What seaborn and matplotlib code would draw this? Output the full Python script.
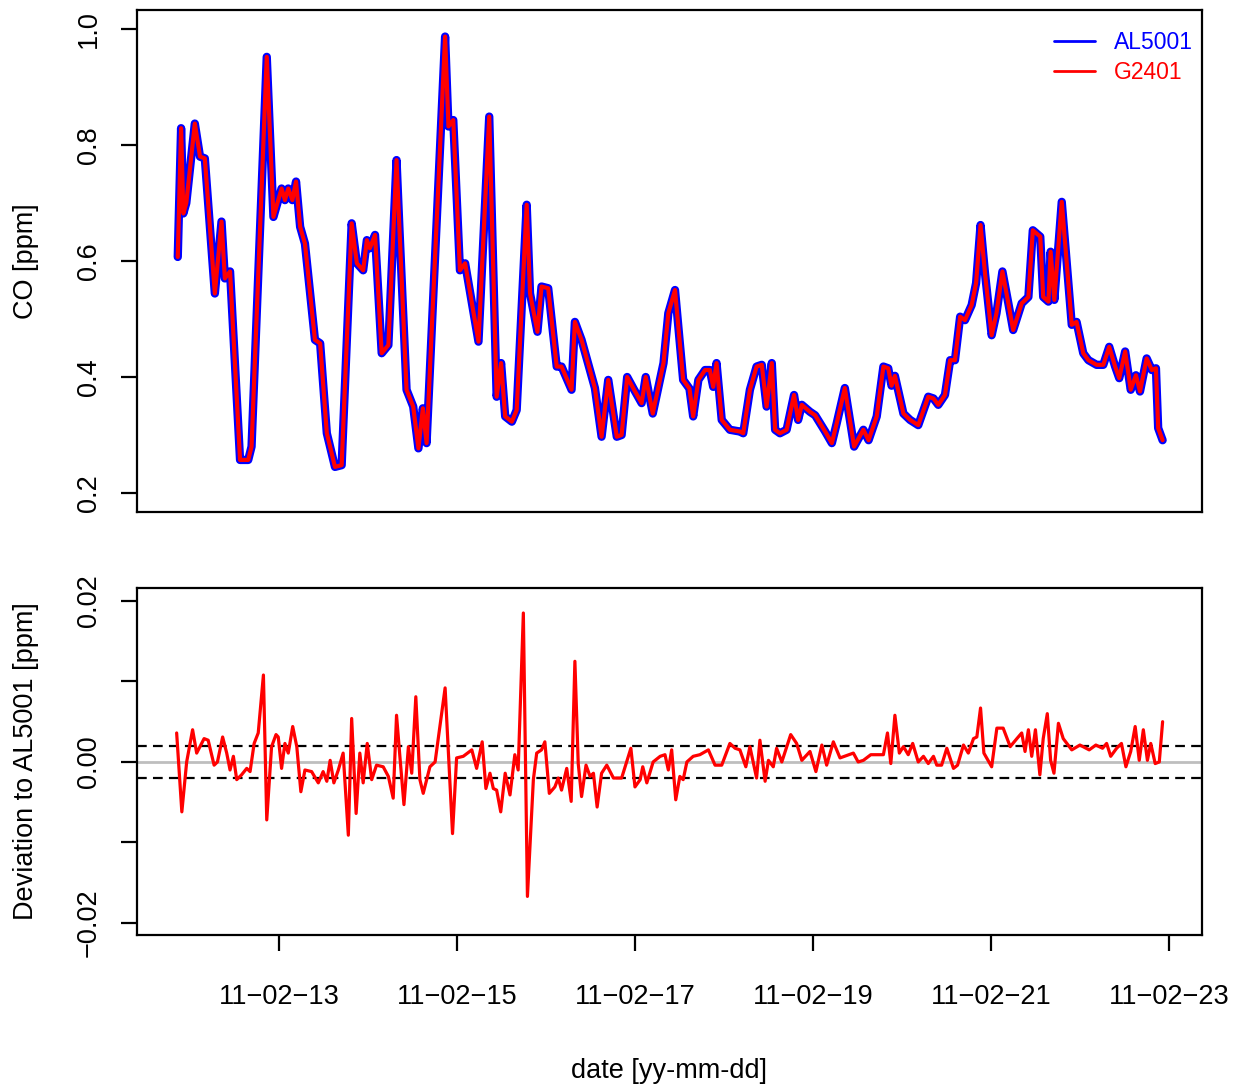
import matplotlib
matplotlib.use("Agg")
import matplotlib.pyplot as plt
from matplotlib.lines import Line2D
import numpy as np
import pandas as pd
import seaborn as sns

# CO time series, hours relative to 2011-02-13 00:00
co_hours = [-27.3, -26.4, -25.8, -25.0, -22.7, -21.3, -20.0, -17.3, -15.5, -14.6,
            -13.2, -10.5, -8.3, -7.4, -3.3, -1.5, 0.7, 1.6, 2.5, 3.6,
            4.6, 5.7, 7.0, 9.7, 11.1, 12.9, 15.1, 16.9, 19.6, 21.0,
            22.7, 23.7, 24.5, 25.9, 27.7, 29.5, 31.7, 32.5, 34.4, 36.2,
            37.6, 38.8, 39.8, 44.8, 45.7, 47.0, 48.8, 50.2, 53.8, 56.7,
            58.7, 59.9, 61.0, 62.8, 64.1, 66.8, 67.7, 69.7, 70.8, 72.6,
            74.9, 76.2, 78.9, 79.8, 81.6, 85.2, 87.0, 88.8, 91.1, 92.4,
            93.9, 95.6, 97.8, 98.9, 100.8, 103.7, 105.0, 106.8, 109.0, 110.7,
            111.7, 113.1, 114.9, 116.2, 117.1, 118.0, 119.4, 121.6, 124.3, 125.2,
            127.0, 128.8, 130.2, 131.5, 132.9, 133.8, 135.1, 136.9, 138.9, 140.0,
            141.0, 143.2, 144.6, 147.3, 149.1, 150.4, 152.6, 155.1, 157.6, 159.0,
            161.2, 163.0, 164.3, 165.2, 166.1, 168.4, 170.2, 172.4, 175.1, 176.5,
            177.8, 179.6, 181.0, 182.3, 183.7, 185.0, 186.8, 188.0, 189.2, 190.4,
            192.2, 193.5, 195.1, 196.7, 198.0, 200.3, 202.1, 203.3, 205.3, 206.1,
            207.5, 208.1, 209.1, 211.1, 213.8, 215.1, 216.9, 218.3, 220.5, 222.3,
            223.9, 225.5, 226.6, 228.2, 229.7, 231.1, 232.2, 234.0, 235.4, 236.5,
            237.1, 238.3]
co_al5001 = [0.607, 0.829, 0.682, 0.700, 0.837, 0.780, 0.777, 0.544, 0.668, 0.570,
             0.582, 0.257, 0.257, 0.280, 0.952, 0.676, 0.725, 0.705, 0.725, 0.705,
             0.737, 0.659, 0.630, 0.464, 0.458, 0.303, 0.245, 0.248, 0.665, 0.596,
             0.584, 0.636, 0.622, 0.645, 0.441, 0.455, 0.774, 0.653, 0.378, 0.349,
             0.277, 0.346, 0.286, 0.987, 0.832, 0.843, 0.584, 0.596, 0.461, 0.849,
             0.366, 0.424, 0.332, 0.323, 0.343, 0.697, 0.544, 0.478, 0.556, 0.553,
             0.418, 0.418, 0.378, 0.495, 0.464, 0.381, 0.297, 0.395, 0.297, 0.300,
             0.400, 0.380, 0.355, 0.400, 0.337, 0.424, 0.510, 0.550, 0.395, 0.380,
             0.332, 0.395, 0.412, 0.412, 0.383, 0.424, 0.326, 0.309, 0.306, 0.303,
             0.378, 0.418, 0.421, 0.349, 0.424, 0.309, 0.303, 0.309, 0.369, 0.326,
             0.352, 0.340, 0.334, 0.306, 0.286, 0.320, 0.381, 0.280, 0.309, 0.291,
             0.332, 0.418, 0.415, 0.385, 0.402, 0.337, 0.326, 0.317, 0.366, 0.363,
             0.352, 0.369, 0.429, 0.429, 0.504, 0.498, 0.524, 0.562, 0.662, 0.579,
             0.472, 0.510, 0.582, 0.527, 0.481, 0.527, 0.538, 0.653, 0.642, 0.538,
             0.530, 0.616, 0.533, 0.702, 0.490, 0.495, 0.441, 0.429, 0.421, 0.421,
             0.452, 0.418, 0.398, 0.444, 0.378, 0.403, 0.375, 0.432, 0.412, 0.415,
             0.312, 0.291]
co_g2401 = list(co_al5001)  # indistinguishable at this scale

# G2401 - AL5001 deviation, in 1e-3 ppm
dev_hours = [-27.6, -26.2, -24.9, -23.3, -22.2, -21.3, -20.2, -19.1, -17.5, -16.6,
             -15.2, -14.1, -13.2, -12.3, -11.4, -10.1, -8.7, -7.8, -6.7, -5.6,
             -4.2, -3.3, -2.0, -0.8, -0.2, 0.7, 1.6, 2.5, 3.7, 4.8,
             5.9, 7.0, 8.8, 10.6, 11.9, 12.9, 13.8, 14.8, 16.0, 17.3,
             18.7, 19.6, 20.8, 21.8, 22.7, 23.8, 25.0, 26.3, 28.1, 29.5,
             30.8, 31.7, 32.6, 33.7, 34.9, 35.8, 36.9, 38.0, 38.9, 40.7,
             42.1, 44.8, 46.8, 47.9, 49.7, 52.0, 53.3, 54.8, 55.8, 56.9,
             57.8, 58.7, 59.8, 61.0, 62.3, 63.6, 64.5, 65.9, 67.0, 68.6,
             69.5, 70.8, 71.7, 72.9, 74.4, 75.3, 76.2, 77.6, 78.8, 79.8,
             80.7, 81.6, 82.8, 83.9, 84.8, 85.8, 87.0, 88.4, 90.2, 92.4,
             94.9, 96.0, 97.4, 98.1, 99.2, 100.9, 102.8, 104.1, 105.0, 105.9,
             107.0, 108.1, 109.0, 110.0, 111.7, 113.5, 115.8, 117.6, 119.4, 121.6,
             123.0, 124.3, 125.9, 127.0, 128.8, 129.7, 131.1, 132.0, 133.3, 134.2,
             135.6, 138.0, 139.6, 141.0, 143.2, 144.8, 146.4, 147.7, 149.5, 151.3,
             154.9, 156.2, 157.6, 159.6, 161.2, 163.0, 164.1, 165.0, 166.1, 167.3,
             168.4, 169.7, 170.9, 172.4, 173.8, 175.1, 176.5, 177.4, 178.7, 180.1,
             181.9, 183.0, 184.6, 185.9, 187.3, 188.2, 189.2, 190.1, 192.2, 193.6,
             195.3, 197.2, 199.0, 200.3, 201.2, 202.1, 203.0, 204.0, 205.2, 206.1,
             207.2, 208.1, 209.0, 210.2, 211.5, 213.8, 216.0, 218.5, 220.3, 222.1,
             223.2, 224.3, 225.9, 227.2, 228.4, 229.7, 230.9, 232.0, 233.1, 234.2,
             235.1, 236.3, 237.4, 238.3]
dev_mppm = [3.6, -6.2, 0.0, 4.0, 1.1, 1.9, 2.9, 2.7, -0.4, 0.0,
            3.1, 1.1, -1.0, 0.7, -2.2, -1.6, -0.8, -1.2, 2.3, 3.6,
            10.8, -7.2, 1.9, 3.4, 3.1, -0.8, 2.3, 1.1, 4.4, 1.9,
            -3.7, -1.0, -1.2, -2.6, -1.2, -2.4, 0.2, -2.6, -1.0, 1.1,
            -9.1, 5.4, -6.4, 1.1, -2.6, 2.3, -2.2, -0.4, -0.6, -1.8,
            -4.5, 5.8, 0.7, -5.3, 1.9, -1.4, 8.1, -2.2, -3.9, -0.6,
            0.0, 9.2, -8.9, 0.5, 0.7, 1.5, -0.8, 2.5, -3.3, -1.4,
            -3.3, -3.5, -6.2, -1.4, -4.1, 0.9, -1.0, 18.5, -16.7, -2.2,
            1.1, 1.5, 2.5, -3.9, -3.1, -2.0, -3.5, -0.8, -4.9, 12.5,
            -0.2, -4.3, -0.4, -1.8, -1.4, -5.6, -1.4, -0.4, -2.0, -2.0,
            1.7, -3.1, -2.2, -0.6, -2.6, 0.0, 0.7, 0.9, -1.0, 1.5,
            -4.7, -1.8, -2.2, 0.0, 0.7, 0.9, 1.5, -0.4, -0.4, 2.3,
            1.7, 1.5, -0.6, 1.9, -2.0, 2.7, -2.4, 0.2, -0.6, 1.7,
            0.0, 3.4, 2.3, 0.2, 1.3, -1.2, 2.1, -0.4, 2.5, 0.5,
            1.1, 0.0, 0.2, 0.9, 0.9, 0.9, 3.6, -0.2, 5.8, 1.1,
            1.9, 0.9, 2.3, 0.0, 0.7, -0.2, 0.7, -0.4, -0.4, 1.7,
            -0.8, -0.4, 2.1, 1.1, 2.9, 3.1, 6.7, 1.1, -0.6, 4.2,
            4.2, 1.9, 2.9, 3.6, 1.3, 4.0, 0.7, 4.0, -1.6, 2.9,
            6.0, 0.2, -1.4, 4.8, 2.9, 1.5, 2.1, 1.5, 2.1, 1.7,
            2.3, 0.7, 1.7, 2.3, -0.6, 1.3, 4.4, 0.2, 4.0, 0.2,
            2.3, -0.2, 0.0, 5.0]

co_ticks = [0.2, 0.4, 0.6, 0.8, 1.0]
dev_ticks = [-0.02, -0.01, 0.0, 0.01, 0.02]
dev_tick_labels = ["\u22120.02", "", "0.00", "", "0.02"]
date_ticks = ["2011-02-13", "2011-02-15", "2011-02-17", "2011-02-19", "2011-02-21", "2011-02-23"]
dev_band = 0.002

t0 = pd.Timestamp("2011-02-13")
co = pd.DataFrame({
    "time": t0 + pd.to_timedelta(co_hours, unit="h"),
    "AL5001": co_al5001,
    "G2401": co_g2401,
})
dev = pd.DataFrame({
    "time": t0 + pd.to_timedelta(dev_hours, unit="h"),
    "dev": np.array(dev_mppm) * 1e-3,
})

sns.set_theme(style="ticks")
plt.rcParams["font.family"] = ["Liberation Sans", "DejaVu Sans"]
plt.rcParams["lines.scale_dashes"] = False
plt.rcParams["axes.linewidth"] = 1.6
plt.rcParams["text.color"] = "black"
plt.rcParams["axes.labelcolor"] = "black"

fig = plt.figure(figsize=(12.34, 10.88), dpi=100)
ax1 = fig.add_axes([0.1110, 0.5294, 0.8630, 0.4614])
ax2 = fig.add_axes([0.1110, 0.1406, 0.8630, 0.3189])

xlim = (t0 + pd.Timedelta(hours=-38.3), t0 + pd.Timedelta(hours=248.9))

# top: CO from both analysers
sns.lineplot(data=co, x="time", y="AL5001", ax=ax1, color="#0000ff", lw=6,
             estimator=None, sort=False, solid_joinstyle="round", solid_capstyle="round")
sns.lineplot(data=co, x="time", y="G2401", ax=ax1, color="#ff0000", lw=3,
             estimator=None, sort=False, solid_joinstyle="round", solid_capstyle="round")
ax1.set_xlim(xlim)
ax1.set_ylim(0.1672, 1.0328)
ax1.set_yticks(co_ticks)
ax1.set_yticklabels([f"{v:.1f}" for v in co_ticks])
ax1.set_xticks([])
ax1.set_xlabel("")
ax1.set_ylabel("CO [ppm]", fontsize=19.5)
ax1.yaxis.set_label_coords(-0.092, 0.5)

handles = [Line2D([], [], color="#0000ff", lw=2), Line2D([], [], color="#ff0000", lw=2)]
ax1.legend(handles, ["AL5001", "G2401"], loc="upper right", frameon=False,
           fontsize=16.5, labelcolor=["#0000ff", "#ff0000"], handlelength=1.8,
           handletextpad=0.85, labelspacing=0.32, borderaxespad=0.3,
           bbox_to_anchor=(1.007, 0.99))

# bottom: deviation
ax2.axhline(0, color="#bebebe", lw=2)
ax2.axhline(dev_band, color="black", lw=1.6, dashes=(7, 4.5))
ax2.axhline(-dev_band, color="black", lw=1.6, dashes=(7, 4.5))
sns.lineplot(data=dev, x="time", y="dev", ax=ax2, color="#ff0000", lw=2.3,
             estimator=None, sort=False, solid_joinstyle="round")
ax2.set_xlim(xlim)
ax2.set_ylim(-0.0215, 0.0216)
ax2.set_yticks(dev_ticks)
ax2.set_yticklabels(dev_tick_labels)
ax2.set_xticks(pd.to_datetime(date_ticks))
ax2.set_xticklabels([pd.Timestamp(d).strftime("%y-%m-%d").replace("-", "\u2212") for d in date_ticks])
ax2.set_ylabel("Deviation to AL5001 [ppm]", fontsize=19.5)
ax2.yaxis.set_label_coords(-0.092, 0.5)
ax2.set_xlabel("date [yy-mm-dd]", fontsize=19.5)
ax2.xaxis.set_label_coords(0.5, -0.355)

for ax in (ax1, ax2):
    for s in ax.spines.values():
        s.set_visible(True)
        s.set_color("black")
    ax.tick_params(axis="y", length=11.5, width=1.6, labelsize=19.5, pad=14,
                   labelrotation=90, colors="black")
    for lab in ax.get_yticklabels():
        lab.set_va("center")
ax2.tick_params(axis="x", length=11.5, width=1.6, labelsize=19.5, pad=24, colors="black")

fig.savefig("out.png", dpi=100)
